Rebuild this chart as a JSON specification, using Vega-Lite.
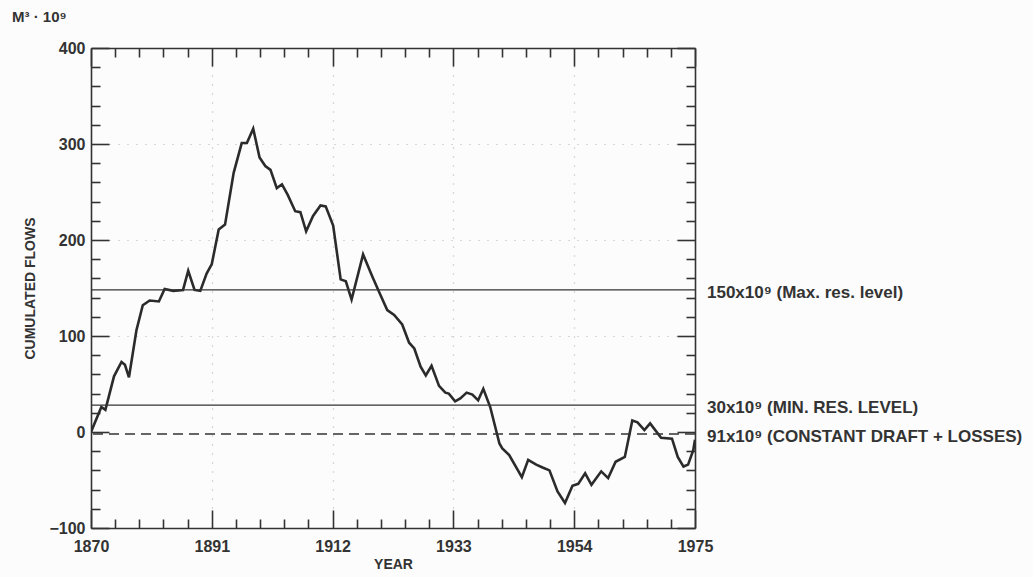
{
  "$schema": "https://vega.github.io/schema/vega-lite/v6.json",
  "width": 604,
  "height": 480,
  "autosize": {"type": "none"},
  "padding": {"left": 91, "top": 48, "right": 338, "bottom": 49},
  "background": "#fbfcfb",
  "config": {
    "view": {"stroke": null},
    "font": "Liberation Sans",
    "axis": {
      "domainColor": "#333",
      "domainWidth": 1.6,
      "tickColor": "#333",
      "tickWidth": 1.6,
      "labelFont": "Liberation Sans",
      "labelFontWeight": "bold",
      "labelFontSize": 16,
      "labelColor": "#333",
      "titleFont": "Liberation Sans",
      "titleFontWeight": "bold",
      "titleFontSize": 14,
      "titleColor": "#333",
      "labelOverlap": false,
      "labelFlush": false
    }
  },
  "title": {
    "text": "M³ · 10⁹",
    "anchor": "start",
    "frame": "group",
    "dx": -79,
    "offset": 15,
    "fontSize": 15,
    "fontWeight": "bold",
    "color": "#333",
    "font": "Liberation Sans"
  },
  "resolve": {"axis": {"x": "independent", "y": "independent"}},
  "layer": [
    {
      "data": {
        "values": [
          {"year": 1870.0, "flow": 0},
          {"year": 1871.8, "flow": 26},
          {"year": 1872.5, "flow": 23},
          {"year": 1874.0, "flow": 58},
          {"year": 1875.3, "flow": 73},
          {"year": 1875.9, "flow": 70},
          {"year": 1876.6, "flow": 57},
          {"year": 1877.9, "flow": 106},
          {"year": 1879.0, "flow": 132},
          {"year": 1880.2, "flow": 137},
          {"year": 1881.8, "flow": 136},
          {"year": 1882.8, "flow": 149},
          {"year": 1884.3, "flow": 147},
          {"year": 1886.0, "flow": 148},
          {"year": 1886.9, "flow": 168},
          {"year": 1888.0, "flow": 148},
          {"year": 1889.0, "flow": 147},
          {"year": 1890.1, "flow": 165},
          {"year": 1891.0, "flow": 175},
          {"year": 1892.2, "flow": 211},
          {"year": 1893.3, "flow": 216},
          {"year": 1894.8, "flow": 270},
          {"year": 1896.2, "flow": 301},
          {"year": 1897.1, "flow": 301},
          {"year": 1898.2, "flow": 316},
          {"year": 1899.3, "flow": 286},
          {"year": 1900.3, "flow": 277},
          {"year": 1901.2, "flow": 273},
          {"year": 1902.3, "flow": 254},
          {"year": 1903.2, "flow": 258},
          {"year": 1904.2, "flow": 247},
          {"year": 1905.5, "flow": 230},
          {"year": 1906.4, "flow": 229},
          {"year": 1907.4, "flow": 209},
          {"year": 1908.6, "flow": 225},
          {"year": 1909.9, "flow": 236},
          {"year": 1910.8, "flow": 235},
          {"year": 1912.1, "flow": 215},
          {"year": 1913.4, "flow": 159},
          {"year": 1914.3, "flow": 157},
          {"year": 1915.3, "flow": 138},
          {"year": 1917.3, "flow": 185},
          {"year": 1918.9, "flow": 162},
          {"year": 1920.3, "flow": 143},
          {"year": 1921.5, "flow": 127},
          {"year": 1922.7, "flow": 122},
          {"year": 1924.1, "flow": 112},
          {"year": 1925.3, "flow": 93},
          {"year": 1926.2, "flow": 87},
          {"year": 1927.3, "flow": 68},
          {"year": 1928.2, "flow": 59},
          {"year": 1929.2, "flow": 69},
          {"year": 1930.5, "flow": 48},
          {"year": 1931.6, "flow": 41},
          {"year": 1932.2, "flow": 40},
          {"year": 1933.3, "flow": 32},
          {"year": 1934.2, "flow": 35},
          {"year": 1935.3, "flow": 41},
          {"year": 1936.3, "flow": 39},
          {"year": 1937.3, "flow": 33},
          {"year": 1938.2, "flow": 45},
          {"year": 1939.4, "flow": 26},
          {"year": 1941.0, "flow": -12},
          {"year": 1941.5, "flow": -17},
          {"year": 1942.7, "flow": -24},
          {"year": 1944.9, "flow": -47},
          {"year": 1946.0, "flow": -29},
          {"year": 1947.4, "flow": -34},
          {"year": 1948.5, "flow": -37},
          {"year": 1949.7, "flow": -40},
          {"year": 1951.1, "flow": -62},
          {"year": 1952.4, "flow": -74},
          {"year": 1953.7, "flow": -56},
          {"year": 1954.7, "flow": -54},
          {"year": 1955.9, "flow": -43},
          {"year": 1957.0, "flow": -55},
          {"year": 1958.7, "flow": -41},
          {"year": 1959.9, "flow": -48},
          {"year": 1961.2, "flow": -31},
          {"year": 1962.8, "flow": -26},
          {"year": 1964.1, "flow": 12},
          {"year": 1965.0, "flow": 10},
          {"year": 1966.2, "flow": 2},
          {"year": 1967.2, "flow": 9},
          {"year": 1969.1, "flow": -6},
          {"year": 1971.0, "flow": -7},
          {"year": 1972.0, "flow": -26},
          {"year": 1973.0, "flow": -36},
          {"year": 1973.8, "flow": -34},
          {"year": 1974.7, "flow": -19},
          {"year": 1975.0, "flow": -8}
        ]
      },
      "mark": {"type": "line", "color": "#2b2b2b", "strokeWidth": 2.6, "strokeJoin": "miter", "clip": true},
      "encoding": {
        "x": {
          "field": "year",
          "type": "quantitative",
          "scale": {"domain": [1870, 1975], "nice": false, "zero": false},
          "axis": {
            "orient": "bottom",
            "title": "YEAR",
            "titlePadding": -6,
            "values": [1870, 1874.2, 1878.4, 1882.6, 1886.8, 1891, 1895.2, 1899.4, 1903.6, 1907.8, 1912, 1916.2, 1920.4, 1924.6, 1928.8, 1933, 1937.2, 1941.4, 1945.6, 1949.8, 1954, 1958.2, 1962.4, 1966.6, 1970.8, 1975],
            "format": "d",
            "labelExpr": "abs((datum.value-1870)/21 - round((datum.value-1870)/21)) < 0.01 ? datum.label : ''",
            "tickSize": {"condition": {"test": "abs((datum.value-1870)/21 - round((datum.value-1870)/21)) < 0.01", "value": -18}, "value": -9},
            "labelPadding": 28,
            "grid": true,
            "gridColor": "#999",
            "gridDash": [1, 8],
            "gridWidth": 1.2,
            "gridOpacity": {"condition": {"test": "abs((datum.value-1870)/21 - round((datum.value-1870)/21)) < 0.01 && datum.value > 1871 && datum.value < 1974", "value": 0.7}, "value": 0}
          }
        },
        "y": {
          "field": "flow",
          "type": "quantitative",
          "scale": {"domain": [-100, 400], "nice": false, "zero": false},
          "axis": {
            "orient": "left",
            "title": "CUMULATED FLOWS",
            "titlePadding": 11,
            "values": [-100, -80, -60, -40, -20, 0, 20, 40, 60, 80, 100, 120, 140, 160, 180, 200, 220, 240, 260, 280, 300, 320, 340, 360, 380, 400],
            "format": "d",
            "labelExpr": "datum.value % 100 === 0 ? datum.label : ''",
            "tickSize": {"condition": {"test": "datum.value % 100 === 0", "value": -18}, "value": -9},
            "labelPadding": 24,
            "grid": true,
            "gridColor": "#999",
            "gridDash": [1, 8],
            "gridWidth": 1.2,
            "gridOpacity": {"condition": {"test": "datum.value % 100 === 0 && datum.value > 0 && datum.value < 400", "value": 0.7}, "value": 0}
          }
        }
      }
    },
    {
      "data": {
        "values": [
          {"level": 148, "kind": "solid"},
          {"level": 28, "kind": "solid"}
        ]
      },
      "mark": {"type": "rule", "color": "#333", "strokeWidth": 1.3},
      "encoding": {
        "y": {"field": "level", "type": "quantitative", "axis": null}
      }
    },
    {
      "data": {"values": [{"level": -2}]},
      "mark": {"type": "rule", "color": "#333", "strokeWidth": 1.5, "strokeDash": [10, 6]},
      "encoding": {
        "y": {"field": "level", "type": "quantitative", "axis": null}
      }
    },
    {
      "data": {
        "values": [
          {"level": 148, "label": "150x10⁹ (Max. res. level)"},
          {"level": 28, "label": "30x10⁹ (MIN. RES. LEVEL)"},
          {"level": -2, "label": "91x10⁹ (CONSTANT DRAFT + LOSSES)"}
        ]
      },
      "mark": {"type": "text", "align": "left", "baseline": "middle", "dx": 12, "dy": 3, "fontSize": 17, "fontWeight": "bold", "color": "#333", "font": "Liberation Sans"},
      "encoding": {
        "x": {
          "datum": 1975,
          "type": "quantitative",
          "axis": {
            "orient": "top",
            "title": null,
            "values": [1870, 1874.2, 1878.4, 1882.6, 1886.8, 1891, 1895.2, 1899.4, 1903.6, 1907.8, 1912, 1916.2, 1920.4, 1924.6, 1928.8, 1933, 1937.2, 1941.4, 1945.6, 1949.8, 1954, 1958.2, 1962.4, 1966.6, 1970.8, 1975],
            "labels": false,
            "tickSize": {"condition": {"test": "abs((datum.value-1870)/21 - round((datum.value-1870)/21)) < 0.01", "value": -18}, "value": -9}
          }
        },
        "y": {
          "field": "level",
          "type": "quantitative",
          "axis": {
            "orient": "right",
            "title": null,
            "values": [-100, -80, -60, -40, -20, 0, 20, 40, 60, 80, 100, 120, 140, 160, 180, 200, 220, 240, 260, 280, 300, 320, 340, 360, 380, 400],
            "labels": false,
            "tickSize": {"condition": {"test": "datum.value % 100 === 0", "value": -18}, "value": -9}
          }
        },
        "text": {"field": "label"}
      }
    }
  ]
}
